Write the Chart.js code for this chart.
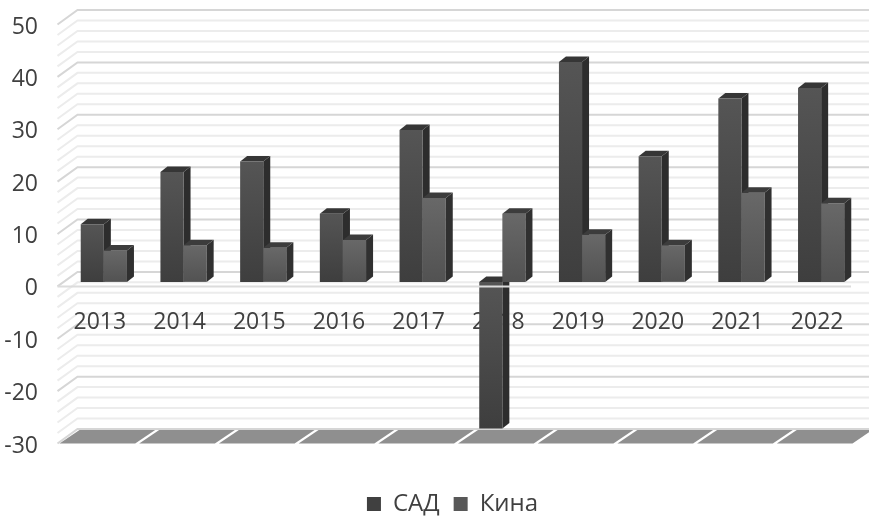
<!DOCTYPE html>
<html>
<head>
<meta charset="utf-8">
<title>САД Кина</title>
<script src="https://cdn.jsdelivr.net/npm/chart.js@4/dist/chart.umd.min.js"></script>
<style>
  html, body { margin: 0; padding: 0; background: #fff; }
  canvas { display: block; }
</style>
</head>
<body>
<canvas id="chart" width="869" height="516"></canvas>
<script>
const years = ['2013', '2014', '2015', '2016', '2017', '2018', '2019', '2020', '2021', '2022'];
const sadValues = [11, 21, 23, 13, 29, -28, 42, 24, 35, 37];
const kinaValues = [6, 7, 6.5, 8, 16, 13, 9, 7, 17, 15];
const axisMin = -30;
const axisMax = 50;
const majorStep = 10;
const minorStep = 2;

const textColor = '#404040';
const fontName = '"Open Sans", sans-serif';

// 3D look: offsets of the walls and of the bar depth, relative to the bar plane
const frontX = -6.5, frontY = 4.5;
const backX = 13.5, backY = -10;
const depthX = 7, depthY = -5.5;

function barGradient(context, top, bottom) {
    const chart = context.chart;
    if (!chart.chartArea || context.parsed === undefined) return top;
    const y = chart.scales.y;
    const value = context.raw;
    const g = chart.ctx.createLinearGradient(0, y.getPixelForValue(Math.max(value, 0)), 0, y.getPixelForValue(Math.min(value, 0)));
    g.addColorStop(0, top);
    g.addColorStop(1, bottom);
    return g;
}

function drawDepth(chart, index, sideColor, topColor) {
    const ctx = chart.ctx;
    chart.getDatasetMeta(index).data.forEach(bar => {
        const left = bar.x - bar.width / 2;
        const right = bar.x + bar.width / 2;
        const top = Math.min(bar.y, bar.base);
        const bottom = Math.max(bar.y, bar.base);
        ctx.fillStyle = sideColor;
        ctx.beginPath();
        ctx.moveTo(right, top);
        ctx.lineTo(right + depthX, top + depthY);
        ctx.lineTo(right + depthX, bottom + depthY);
        ctx.lineTo(right, bottom);
        ctx.closePath();
        ctx.fill();
        ctx.fillStyle = topColor;
        ctx.beginPath();
        ctx.moveTo(left, top);
        ctx.lineTo(left + depthX, top + depthY);
        ctx.lineTo(right + depthX, top + depthY);
        ctx.lineTo(right, top);
        ctx.closePath();
        ctx.fill();
    });
}

const walls = {
    id: 'walls',
    // the legend sits right of the canvas centre in the original
    afterLayout(chart) {
        chart.legend.left += 22;
        chart.legend.right += 22;
    },
    // grid lines on the back wall and the slanted side wall, then the grey floor
    beforeDraw(chart) {
        const ctx = chart.ctx;
        const y = chart.scales.y;
        const area = chart.chartArea;
        ctx.save();
        for (let v = axisMin; v <= axisMax; v += minorStep) {
            const major = v % majorStep === 0;
            const py = y.getPixelForValue(v);
            ctx.strokeStyle = major ? '#d6d6d6' : '#ececec';
            ctx.lineWidth = 2;
            ctx.beginPath();
            ctx.moveTo(area.left + frontX, py + frontY);
            ctx.lineTo(area.left + backX, py + backY);
            ctx.lineTo(chart.width, py + backY);
            ctx.stroke();
        }
        const floorTop = y.getPixelForValue(axisMin) + backY + 1;
        const floorBottom = y.getPixelForValue(axisMin) + frontY;
        const step = (area.right - area.left) / years.length;
        years.forEach((year, i) => {
            const x0 = area.left + frontX + i * step;
            ctx.fillStyle = '#8f8f8f';
            ctx.beginPath();
            ctx.moveTo(x0 + 2, floorBottom);
            ctx.lineTo(x0 + backX - frontX + 2, floorTop);
            ctx.lineTo(x0 + step + backX - frontX - 2, floorTop);
            ctx.lineTo(x0 + step - 2, floorBottom);
            ctx.closePath();
            ctx.fill();
        });
        ctx.restore();
    },
    beforeDatasetsDraw(chart) {
        drawDepth(chart, 0, '#2d2d2d', '#363636');
    },
    afterDatasetsDraw(chart) {
        drawDepth(chart, 1, '#303030', '#3c3c3c');
        // the front edge of the zero plane runs across the negative bar
        const ctx = chart.ctx;
        const py = chart.scales.y.getPixelForValue(0) + frontY;
        ctx.save();
        ctx.strokeStyle = '#dcdcdc';
        ctx.lineWidth = 2;
        ctx.beginPath();
        ctx.moveTo(chart.chartArea.left + frontX, py);
        ctx.lineTo(chart.chartArea.right - 10, py);
        ctx.stroke();
        ctx.restore();
    }
};

new Chart(document.getElementById('chart'), {
    type: 'bar',
    data: {
        labels: years,
        datasets: [
            { label: 'САД', data: sadValues, backgroundColor: c => barGradient(c, '#555555', '#3e3e3e') },
            { label: 'Кина', data: kinaValues, backgroundColor: c => barGradient(c, '#686868', '#525252') }
        ]
    },
    plugins: [walls],
    options: {
        responsive: false,
        animation: false,
        layout: { padding: { left: 0, right: 8, top: 20, bottom: -10 } },
        datasets: { bar: { categoryPercentage: 0.58, barPercentage: 1, borderWidth: 0 } },
        scales: {
            x: {
                position: { y: 0 },
                z: -1,
                grid: { display: false },
                border: { display: false },
                ticks: { color: textColor, font: { family: fontName, size: 23 }, padding: 18.5, labelOffset: -4, maxRotation: 0, autoSkip: false }
            },
            // empty axis, only keeps room between the floor and the legend
            spacer: {
                type: 'category',
                position: 'bottom',
                grid: { display: false },
                border: { display: false },
                ticks: { display: false },
                afterFit: s => { s.height = 39; }
            },
            y: {
                min: axisMin,
                max: axisMax,
                afterFit: s => { s.width = 64; s.paddingTop = 0; s.paddingBottom = 0; },
                grid: { display: false },
                border: { display: false },
                ticks: { stepSize: majorStep, color: textColor, font: { family: fontName, size: 23 }, padding: 18, labelOffset: 7 }
            }
        },
        plugins: {
            tooltip: { enabled: false },
            legend: {
                position: 'bottom',
                labels: {
                    color: textColor,
                    font: { family: fontName, size: 24 },
                    boxWidth: 14,
                    boxHeight: 14,
                    padding: 14,
                    generateLabels: () => [
                        { text: 'САД', fillStyle: '#404040', strokeStyle: '#404040', lineWidth: 0, fontColor: textColor, datasetIndex: 0 },
                        { text: 'Кина', fillStyle: '#585858', strokeStyle: '#585858', lineWidth: 0, fontColor: textColor, datasetIndex: 1 }
                    ]
                }
            }
        }
    }
});
</script>
</body>
</html>
